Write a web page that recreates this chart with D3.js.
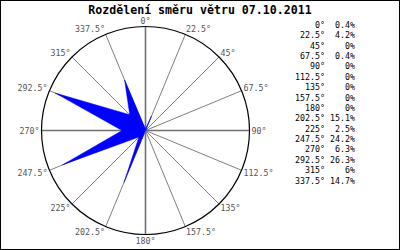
<!DOCTYPE html>
<html>
<head>
<meta charset="utf-8">
<script src="https://cdn.jsdelivr.net/npm/d3@7"></script>
<style>
  body { margin: 0; background: #fff; }
  svg { display: block; }
</style>
</head>
<body>
<svg></svg>
<script>
const title = "Rozdělení směru větru 07.10.2011";
const directions = [0, 22.5, 45, 67.5, 90, 112.5, 135, 157.5, 180, 202.5, 225, 247.5, 270, 292.5, 315, 337.5];
const percents = [0.4, 4.2, 0, 0.4, 0, 0, 0, 0, 0, 15.1, 2.5, 24.2, 6.3, 26.3, 6, 14.7];
const rMax = 28;

const svgWidth = 400;
const svgHeight = 250;
const cx = 145.5, cy = 130.5, radius = 104;
const font = "'DejaVu Sans Mono', 'Liberation Mono', monospace";

const svg = d3.select("svg").attr("width", svgWidth).attr("height", svgHeight);

// frame
svg.append("rect")
  .attr("x", 0.5).attr("y", 0.5)
  .attr("width", svgWidth - 1).attr("height", svgHeight - 1)
  .attr("fill", "#fff").attr("stroke", "#000");

svg.append("text")
  .attr("x", 200).attr("y", 14)
  .attr("text-anchor", "middle")
  .attr("font-family", font).attr("font-weight", "bold").attr("font-size", 11.6)
  .attr("fill", "#000")
  .text(title);

const g = svg.append("g").attr("transform", "translate(" + cx + "," + cy + ")");

const ang = d3.scaleLinear().domain([0, 360]).range([0, 2 * Math.PI]);
const r = d3.scaleLinear().domain([0, rMax]).range([0, radius]);

// spokes
g.selectAll("line.spoke")
  .data(directions)
  .enter()
  .append("line")
  .attr("x1", 0).attr("y1", 0)
  .attr("x2", (d) => radius * Math.sin(ang(d)))
  .attr("y2", (d) => -radius * Math.cos(ang(d)))
  .attr("stroke", (d) => (d % 90 === 0 ? "#707070" : "#808080"))
  .attr("stroke-width", (d) => (d % 90 === 0 ? 1.6 : 1));

g.append("circle")
  .attr("r", radius)
  .attr("fill", "none")
  .attr("stroke", "#000")
  .attr("stroke-width", 1.2);

// rose polygon
const radial = d3.lineRadial()
  .angle((d, i) => ang(directions[i]))
  .radius((d) => r(d))
  .curve(d3.curveLinearClosed);

g.append("path")
  .datum(percents)
  .attr("d", radial)
  .attr("fill", "#0000ff")
  .attr("stroke", "#0000ff")
  .attr("stroke-width", 0.5);

// spoke labels
g.selectAll("text.lbl")
  .data(directions)
  .enter()
  .append("text")
  .attr("x", (d) => (radius + 2) * Math.sin(ang(d)))
  .attr("y", (d) => -radius * Math.cos(ang(d)) - 6 * Math.cos(ang(d)) + 3)
  .attr("text-anchor", (d) => {
    const s = Math.sin(ang(d));
    return Math.abs(s) < 0.01 ? "middle" : s > 0 ? "start" : "end";
  })
  .attr("font-family", font).attr("font-size", 8.3)
  .attr("fill", "#555")
  .text((d) => d + "°");

// legend table
const legend = svg.append("g").attr("font-family", font).attr("font-size", 8.3).attr("fill", "#000");
directions.forEach((d, i) => {
  const y = 28 + i * 10.37;
  legend.append("text").attr("x", 325).attr("y", y).attr("text-anchor", "end").text(d + "°");
  legend.append("text").attr("x", 355).attr("y", y).attr("text-anchor", "end").text(percents[i] + "%");
});
</script>
</body>
</html>
